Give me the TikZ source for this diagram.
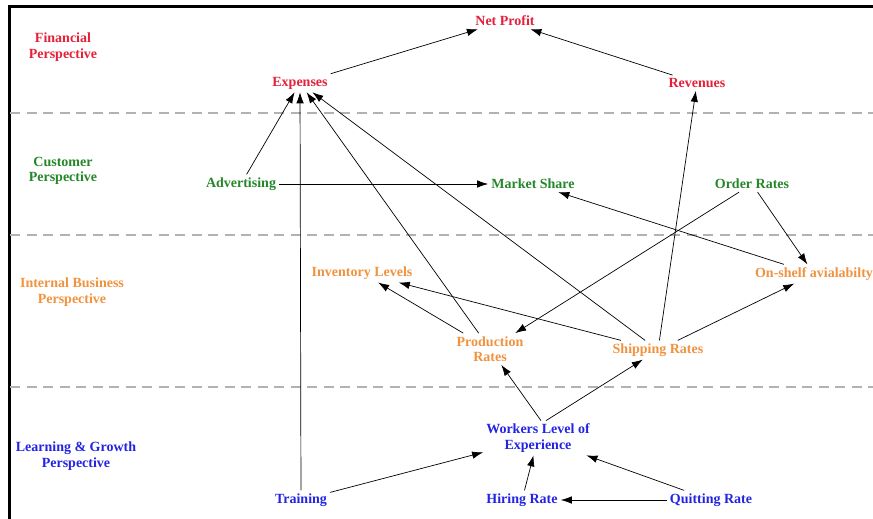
\documentclass[tikz,border=0pt]{standalone}
\usepackage{fontspec}
\setmainfont{Liberation Serif}
\usetikzlibrary{arrows.meta}

\definecolor{finred}{RGB}{228,32,58}
\definecolor{custgreen}{RGB}{38,134,42}
\definecolor{intorange}{RGB}{240,146,62}
\definecolor{learnblue}{RGB}{34,36,226}

\tikzset{
    lbl/.style={font=\bfseries\fontsize{14}{15.5}\selectfont, align=center, inner sep=3pt},
    link/.style={-{Latex[length=11pt,width=7.5pt]}, line width=0.7pt},
    layer/.style={gray!60, line width=1.2pt, dash pattern=on 10pt off 6.5pt},
}

\begin{document}
\begin{tikzpicture}[x=1pt, y=-1pt]
        \useasboundingbox (0,0) rectangle (873,519);

        % frame and perspective separators
        \draw[line width=3pt] (9,519) -- (9,7) -- (873,7);
        \foreach \y in {113, 235, 387} {
            \draw[layer] (10,\y) -- (873,\y);
        }

        % perspective titles
        \node[lbl, finred]     (finTitle)   at (63,47)  {Financial\\Perspective};
        \node[lbl, custgreen]  (custTitle)  at (63,171) {Customer\\Perspective};
        \node[lbl, intorange]  (intTitle)   at (72,292) {Internal Business\\Perspective};
        \node[lbl, learnblue]  (learnTitle) at (76,456) {Learning \& Growth\\Perspective};

        % financial
        \node[lbl, finred] (netProfit) at (505,21) {Net Profit};
        \node[lbl, finred] (expenses)  at (300,83) {Expenses};
        \node[lbl, finred] (revenues)  at (697,83) {Revenues};

        % customer
        \node[lbl, custgreen] (advertising) at (241,184) {Advertising};
        \node[lbl, custgreen] (marketShare) at (533,184) {Market Share};
        \node[lbl, custgreen] (orderRates)  at (752,184) {Order Rates};

        % internal business
        \node[lbl, intorange] (inventory)  at (362,273) {Inventory Levels};
        \node[lbl, intorange] (onShelf)    at (814,274) {On-shelf avialabilty};
        \node[lbl, intorange] (production) at (490,349) {Production\\Rates};
        \node[lbl, intorange] (shipping)   at (658,350) {Shipping Rates};

        % learning and growth
        \node[lbl, learnblue] (workers)  at (538,438) {Workers Level of\\Experience};
        \node[lbl, learnblue] (training) at (301,500) {Training};
        \node[lbl, learnblue] (hiring)   at (522,500) {Hiring Rate};
        \node[lbl, learnblue] (quitting) at (711,500) {Quitting Rate};

        % links
        \draw[link] (expenses) -- (netProfit);
        \draw[link] (revenues) -- (netProfit);
        \draw[link] (advertising) -- (expenses);
        \draw[link] (training) -- (expenses);
        \draw[link] (production) -- (expenses);
        \draw[link] (shipping) -- (expenses);
        \draw[link] (shipping) -- (revenues);
        \draw[link] (advertising) -- (marketShare);
        \draw[link] (onShelf) -- (marketShare);
        \draw[link] (orderRates) -- (production);
        \draw[link] (orderRates) -- (onShelf);
        \draw[link] (production) -- (inventory);
        \draw[link] (shipping) -- (inventory);
        \draw[link] (shipping) -- (onShelf);
        \draw[link] ([xshift=3pt]workers.north) -- (production);
        \draw[link] ([xshift=8pt]workers.north) -- (shipping);
        \draw[link] (training) -- (workers);
        \draw[link] (hiring) -- (workers);
        \draw[link] (quitting) -- (workers);
        \draw[link] (quitting) -- (hiring);

    \end{tikzpicture}
\end{document}
